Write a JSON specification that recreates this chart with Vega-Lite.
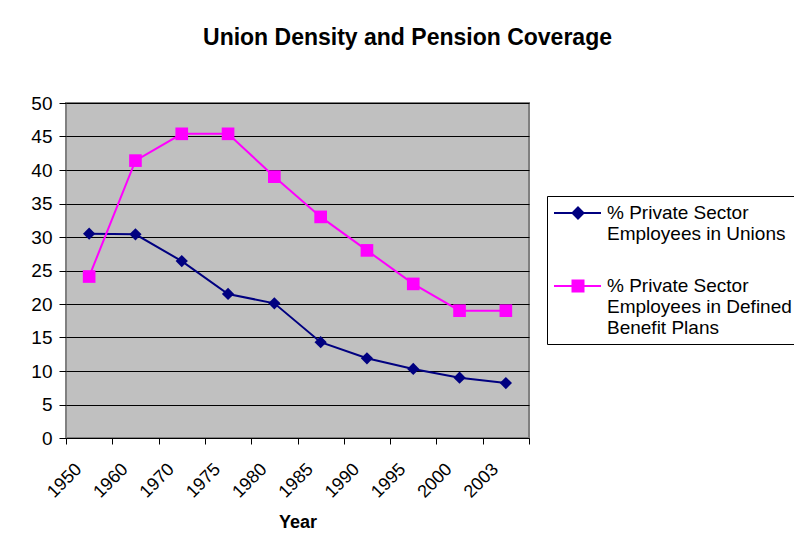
{
  "$schema": "https://vega.github.io/schema/vega-lite/v6.json",
  "width": 463,
  "height": 335,
  "autosize": {"type": "none"},
  "padding": {"left": 66, "top": 103, "right": 265, "bottom": 116},
  "background": "white",
  "title": {
    "text": "Union Density and Pension Coverage",
    "font": "Liberation Sans",
    "fontSize": 23,
    "fontWeight": "bold",
    "color": "black",
    "anchor": "middle",
    "dx": 110,
    "offset": 44
  },
  "data": {
    "values": [
      {"year": "1950", "series": "% Private Sector Employees in Unions", "value": 30.5},
      {"year": "1960", "series": "% Private Sector Employees in Unions", "value": 30.4},
      {"year": "1970", "series": "% Private Sector Employees in Unions", "value": 26.4},
      {"year": "1975", "series": "% Private Sector Employees in Unions", "value": 21.5},
      {"year": "1980", "series": "% Private Sector Employees in Unions", "value": 20.1},
      {"year": "1985", "series": "% Private Sector Employees in Unions", "value": 14.3},
      {"year": "1990", "series": "% Private Sector Employees in Unions", "value": 11.9},
      {"year": "1995", "series": "% Private Sector Employees in Unions", "value": 10.3},
      {"year": "2000", "series": "% Private Sector Employees in Unions", "value": 9.0},
      {"year": "2003", "series": "% Private Sector Employees in Unions", "value": 8.2},
      {"year": "1950", "series": "% Private Sector Employees in Defined Benefit Plans", "value": 24.1},
      {"year": "1960", "series": "% Private Sector Employees in Defined Benefit Plans", "value": 41.4},
      {"year": "1970", "series": "% Private Sector Employees in Defined Benefit Plans", "value": 45.4},
      {"year": "1975", "series": "% Private Sector Employees in Defined Benefit Plans", "value": 45.4},
      {"year": "1980", "series": "% Private Sector Employees in Defined Benefit Plans", "value": 39.0},
      {"year": "1985", "series": "% Private Sector Employees in Defined Benefit Plans", "value": 33.0},
      {"year": "1990", "series": "% Private Sector Employees in Defined Benefit Plans", "value": 28.0},
      {"year": "1995", "series": "% Private Sector Employees in Defined Benefit Plans", "value": 23.0},
      {"year": "2000", "series": "% Private Sector Employees in Defined Benefit Plans", "value": 19.0},
      {"year": "2003", "series": "% Private Sector Employees in Defined Benefit Plans", "value": 19.0}
    ]
  },
  "encoding": {
    "x": {
      "field": "year",
      "type": "ordinal",
      "sort": null,
      "scale": {"type": "band", "paddingInner": 0, "paddingOuter": 0},
      "axis": {
        "title": "Year",
        "titleFont": "Liberation Sans",
        "titleFontSize": 18,
        "titleFontWeight": "bold",
        "titleColor": "black",
        "titlePadding": 12,
        "labelAngle": -45,
        "labelFont": "Liberation Sans",
        "labelFontSize": 18,
        "labelColor": "black",
        "labelPadding": 16,
        "labelOffset": -17,
        "tickBand": "extent",
        "tickColor": "black",
        "tickSize": 6,
        "domain": false,
        "grid": false
      }
    },
    "y": {
      "field": "value",
      "type": "quantitative",
      "scale": {"domain": [0, 50], "nice": false},
      "axis": {
        "title": null,
        "values": [0, 5, 10, 15, 20, 25, 30, 35, 40, 45, 50],
        "labelFont": "Liberation Sans",
        "labelFontSize": 19,
        "labelColor": "black",
        "labelPadding": 7,
        "tickColor": "black",
        "tickSize": 7,
        "domain": false,
        "grid": true,
        "gridColor": "black",
        "gridOpacity": 1,
        "gridWidth": 1
      }
    },
    "color": {
      "field": "series",
      "type": "nominal",
      "scale": {
        "domain": ["% Private Sector Employees in Unions", "% Private Sector Employees in Defined Benefit Plans"],
        "range": ["#000080", "#FF00FF"]
      },
      "legend": {
        "title": null,
        "orient": "none",
        "legendX": 481,
        "legendY": 93,
        "fillColor": "white",
        "strokeColor": "black",
        "padding": 6,
        "labelFont": "Liberation Sans",
        "labelFontSize": 19,
        "labelColor": "black",
        "labelLimit": 0,
        "labelOffset": 32,
        "labelExpr": "datum.label == '% Private Sector Employees in Unions' ? ['% Private Sector', 'Employees in Unions'] : ['% Private Sector', 'Employees in Defined', 'Benefit Plans']",
        "symbolSize": 400,
        "symbolStrokeWidth": 2,
        "rowPadding": 31,
        "encode": {
          "symbols": {"update": {"stroke": {"scale": "color", "field": "value"}, "fill": {"scale": "color", "field": "value"}, "strokeWidth": {"value": 2}, "opacity": {"value": 1}}},
          "labels": {"update": {"lineHeight": {"value": 21}}}
        }
      }
    }
  },
  "layer": [
    {"mark": {"type": "line", "strokeWidth": 2}},
    {
      "transform": [{"filter": "datum.series == '% Private Sector Employees in Unions'"}],
      "mark": {"type": "point", "shape": "diamond", "filled": true, "size": 150, "opacity": 1}
    },
    {
      "transform": [{"filter": "datum.series == '% Private Sector Employees in Defined Benefit Plans'"}],
      "mark": {"type": "point", "shape": "square", "filled": true, "size": 160, "opacity": 1}
    },
    {
      "transform": [{"filter": "false"}],
      "mark": {"type": "point", "filled": true, "opacity": 1},
      "encoding": {
        "shape": {
          "field": "series",
          "type": "nominal",
          "scale": {
            "domain": ["% Private Sector Employees in Unions", "% Private Sector Employees in Defined Benefit Plans"],
            "range": ["M-1,0H3.7M1.4,-0.55L1.95,0L1.4,0.55L0.85,0Z", "M-1,0H3.7M0.85,-0.55H1.95V0.55H0.85Z"]
          },
          "legend": {
            "title": null,
            "orient": "none",
            "legendX": 481,
            "legendY": 93,
            "fillColor": "white",
            "strokeColor": "black",
            "padding": 6,
            "labelFont": "Liberation Sans",
            "labelFontSize": 19,
            "labelColor": "black",
            "labelLimit": 0,
            "labelOffset": 32,
            "labelExpr": "datum.label == '% Private Sector Employees in Unions' ? ['% Private Sector', 'Employees in Unions'] : ['% Private Sector', 'Employees in Defined', 'Benefit Plans']",
            "symbolSize": 400,
            "symbolStrokeWidth": 2,
            "rowPadding": 31,
            "encode": {
              "symbols": {"update": {"stroke": {"scale": "color", "field": "value"}, "fill": {"scale": "color", "field": "value"}, "strokeWidth": {"value": 2}, "opacity": {"value": 1}}},
              "labels": {"update": {"lineHeight": {"value": 21}}}
            }
          }
        }
      }
    }
  ],
  "config": {
    "view": {"fill": "#C0C0C0", "stroke": "#808080", "strokeWidth": 2}
  }
}
